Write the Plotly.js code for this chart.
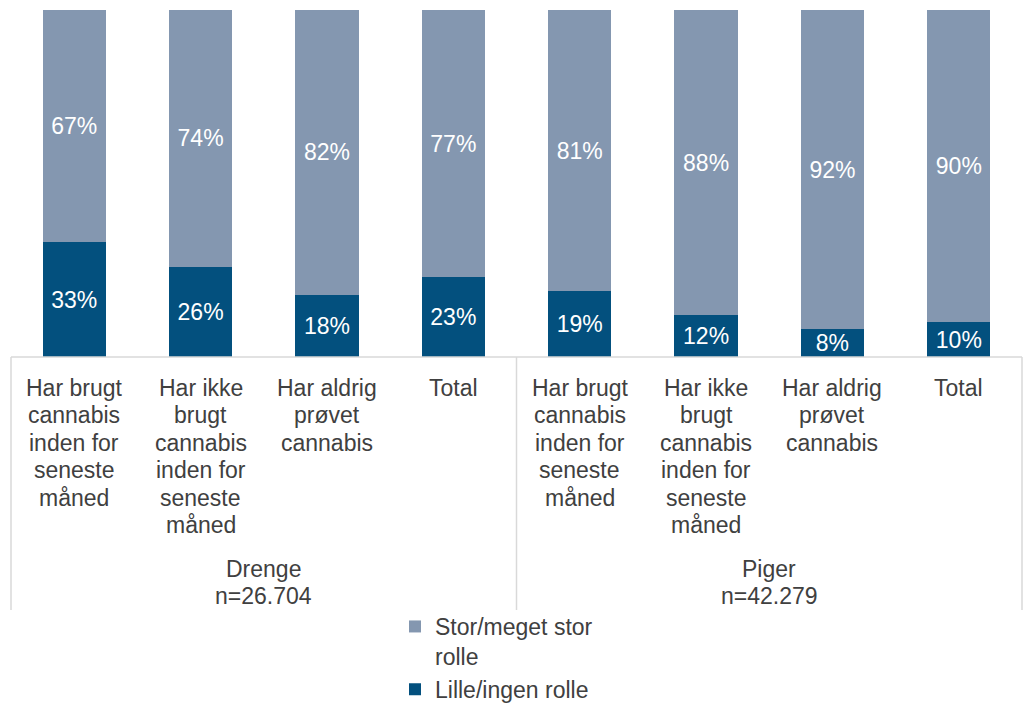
<!DOCTYPE html>
<html>
<head>
<meta charset="utf-8">
<script src="https://cdn.plot.ly/plotly-3.0.1.min.js"></script>
<style>
html,body{margin:0;padding:0;background:#fff;}
#chart{width:1024px;height:709px;}
</style>
</head>
<body>
<div id="chart"></div>
<script>
const categories = [
  "Har brugt<br>cannabis<br>inden for<br>seneste<br>måned",
  "Har ikke<br>brugt<br>cannabis<br>inden for<br>seneste<br>måned",
  "Har aldrig<br>prøvet<br>cannabis",
  "Total",
  "Har brugt<br>cannabis<br>inden for<br>seneste<br>måned",
  "Har ikke<br>brugt<br>cannabis<br>inden for<br>seneste<br>måned",
  "Har aldrig<br>prøvet<br>cannabis",
  "Total"
];
const groups = ["Drenge<br>n=26.704", "Piger<br>n=42.279"];
const groupOf = [0,0,0,0,1,1,1,1];
const lilleValues = [33, 26, 18, 23, 19, 12, 8, 10];
const storValues = [67, 74, 82, 77, 81, 88, 92, 90];
const seriesNames = ["Lille/ingen rolle", "Stor/meget stor<br>rolle"];

const xIdx = categories.map((c, i) => i);
const font = "Liberation Sans, Arial, sans-serif";
const textGray = "#404040";
const FS = 23;
const LINE = 27.4;

const traces = [
  {
    type: "bar", name: seriesNames[0], x: xIdx, y: lilleValues,
    marker: {color: "#03507e"},
    texttemplate: "%{y}%", textposition: "inside", insidetextanchor: "middle",
    textfont: {color: "#ffffff", size: FS, family: font},
    constraintext: "none", hoverinfo: "none"
  },
  {
    type: "bar", name: seriesNames[1], x: xIdx, y: storValues,
    marker: {color: "#8497b0"},
    texttemplate: "%{y}%", textposition: "inside", insidetextanchor: "middle",
    textfont: {color: "#ffffff", size: FS, family: font},
    constraintext: "none", hoverinfo: "none"
  }
];

const annotations = [];
function addLines(text, x, firstCenter) {
  text.split("<br>").forEach((line, k) => {
    annotations.push({
      x: x, xref: "x", y: 0, yref: "paper", yanchor: "middle",
      yshift: -(firstCenter - 357 + k * LINE),
      text: line, showarrow: false, align: "center",
      font: {size: FS, family: font, color: textGray}
    });
  });
}
categories.forEach((c, i) => addLines(c, i, 388));
groups.forEach((g, gi) => {
  const members = xIdx.filter(i => groupOf[i] === gi);
  const mid = (members[0] + members[members.length - 1]) / 2;
  addLines(g, mid, 569);
});

const lineColor = "#d9d9d9";
const yBottom = -(610 - 357) / 347;
const shapes = [
  {type: "line", xref: "paper", yref: "paper", x0: 0, x1: 1, y0: 0, y1: 0, line: {color: lineColor, width: 1.5}},
  {type: "line", xref: "paper", yref: "paper", x0: 0, x1: 0, y0: 0, y1: yBottom, line: {color: lineColor, width: 1.5}},
  {type: "line", xref: "paper", yref: "paper", x0: 0.5, x1: 0.5, y0: 0, y1: yBottom, line: {color: lineColor, width: 1.5}},
  {type: "line", xref: "paper", yref: "paper", x0: 1, x1: 1, y0: 0, y1: yBottom, line: {color: lineColor, width: 1.5}}
];

const layout = {
  width: 1024, height: 709,
  margin: {l: 11, r: 2, t: 10, b: 352, autoexpand: false},
  paper_bgcolor: "#ffffff", plot_bgcolor: "#ffffff",
  barmode: "stack", bargap: 0.5,
  font: {family: font, size: FS, color: textGray},
  xaxis: {range: [-0.5, 7.5], showticklabels: false, showgrid: false, zeroline: false, showline: false, ticks: "", fixedrange: true},
  yaxis: {range: [0, 100], showticklabels: false, showgrid: false, zeroline: false, showline: false, ticks: "", fixedrange: true},
  showlegend: true,
  legend: {
    orientation: "v", traceorder: "reversed",
    x: (395 - 11) / 1011, xanchor: "left",
    y: (357 - 605) / 347, yanchor: "top",
    font: {size: FS, family: font, color: textGray},
    bgcolor: "rgba(0,0,0,0)", itemwidth: 30, valign: "top"
  },
  annotations: annotations,
  shapes: shapes
};

Plotly.newPlot("chart", traces, layout, {displayModeBar: false, staticPlot: true});
</script>
</body>
</html>
